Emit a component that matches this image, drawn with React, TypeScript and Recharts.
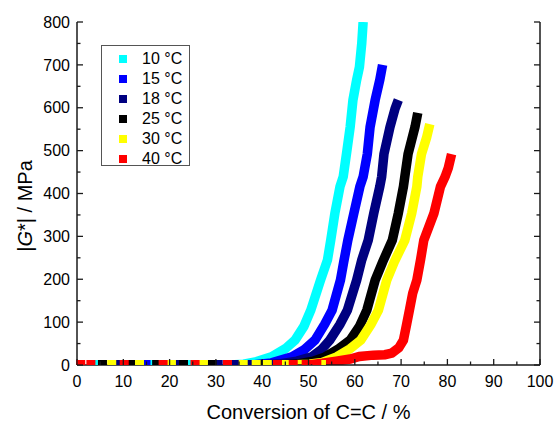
import React from 'react';
import { ComposedChart, Line, Scatter, XAxis, YAxis } from 'recharts';

const FONT = '"Liberation Sans", Arial, sans-serif';

const xTicks = [0, 5, 10, 15, 20, 25, 30, 35, 40, 45, 50, 55, 60, 65, 70, 75, 80, 85, 90, 95, 100];
const yTicks = [0, 50, 100, 150, 200, 250, 300, 350, 400, 450, 500, 550, 600, 650, 700, 750, 800];

const labels = ['10 °C', '15 °C', '18 °C', '25 °C', '30 °C', '40 °C'];
const colors = ['#00ffff', '#0000ff', '#000080', '#000000', '#ffff00', '#ff0000'];

// rising part of each curve (conversion %, |G*| MPa)
const c10 = [
  { x: 33, y: 0 }, { x: 36, y: 2 }, { x: 38.8, y: 8 }, { x: 42, y: 19 }, { x: 45, y: 38 },
  { x: 47.1, y: 58 }, { x: 49, y: 90 }, { x: 50.5, y: 128 }, { x: 52.6, y: 198 }, { x: 54.1, y: 245 },
  { x: 54.8, y: 291 }, { x: 55.7, y: 354 }, { x: 56.8, y: 416 }, { x: 57.5, y: 439 }, { x: 58.3, y: 500 },
  { x: 59, y: 555 }, { x: 59.6, y: 618 }, { x: 60.4, y: 665 }, { x: 61, y: 695 }, { x: 61.5, y: 750 },
  { x: 61.8, y: 800 },
];
const c15 = [
  { x: 38, y: 0 }, { x: 42, y: 5 }, { x: 46.4, y: 19 }, { x: 49, y: 35 }, { x: 51.4, y: 58 },
  { x: 53.5, y: 95 }, { x: 55.1, y: 128 }, { x: 56.9, y: 198 }, { x: 57.6, y: 240 }, { x: 58.5, y: 291 },
  { x: 59.8, y: 354 }, { x: 61.1, y: 416 }, { x: 61.8, y: 439 }, { x: 62.7, y: 492 },
  { x: 63.3, y: 555 }, { x: 64.4, y: 618 }, { x: 65.4, y: 665 }, { x: 66, y: 700 },
];
const c18 = [
  { x: 40, y: 0 }, { x: 44, y: 3 }, { x: 47.5, y: 9 }, { x: 50.7, y: 19 }, { x: 52.8, y: 36 },
  { x: 54.6, y: 58 }, { x: 56.8, y: 95 }, { x: 58.4, y: 128 }, { x: 60.4, y: 198 }, { x: 61.5, y: 245 },
  { x: 62.9, y: 291 }, { x: 64.1, y: 354 }, { x: 65.4, y: 416 }, { x: 65.8, y: 439 }, { x: 66.3, y: 492 },
  { x: 67.6, y: 555 }, { x: 68.7, y: 598 }, { x: 69.4, y: 618 },
];
const c25 = [
  { x: 44, y: 0 }, { x: 48, y: 3 }, { x: 51, y: 9 }, { x: 53.6, y: 19 }, { x: 56.5, y: 38 },
  { x: 59, y: 58 }, { x: 61, y: 90 }, { x: 62.6, y: 128 }, { x: 64.4, y: 198 }, { x: 66, y: 240 },
  { x: 68.1, y: 291 }, { x: 69.4, y: 354 }, { x: 70.5, y: 416 }, { x: 70.8, y: 439 }, { x: 71.5, y: 492 },
  { x: 73, y: 555 }, { x: 73.6, y: 588 },
];
const c30 = [
  { x: 46, y: 0 }, { x: 50, y: 2 }, { x: 53, y: 6 }, { x: 56.1, y: 19 }, { x: 59, y: 38 },
  { x: 61.3, y: 58 }, { x: 63.5, y: 95 }, { x: 65.1, y: 128 }, { x: 66.9, y: 198 }, { x: 68.5, y: 240 },
  { x: 70.8, y: 291 }, { x: 72.3, y: 354 }, { x: 73.4, y: 416 }, { x: 73.6, y: 439 }, { x: 74.4, y: 492 },
  { x: 75.5, y: 530 }, { x: 76.2, y: 562 },
];
const c40 = [
  { x: 50, y: 0 }, { x: 53, y: 4 }, { x: 56, y: 9 }, { x: 59, y: 14 }, { x: 61, y: 20 },
  { x: 64, y: 23 }, { x: 66.5, y: 24 }, { x: 68, y: 28 }, { x: 69.5, y: 40 }, { x: 70.5, y: 58 },
  { x: 71.2, y: 95 }, { x: 71.8, y: 128 }, { x: 72.5, y: 167 }, { x: 73.4, y: 198 }, { x: 74.2, y: 245 },
  { x: 74.9, y: 291 }, { x: 77.1, y: 354 }, { x: 78.5, y: 416 }, { x: 79.5, y: 439 }, { x: 80.2, y: 460 },
  { x: 80.9, y: 492 },
];

// points still lying on the zero line (conversion %)
const b10 = [4.4, 16.5, 24.0];
const b15 = [14.9];
const b18 = [8.9, 21.9, 30.5, 34.3, 37.5];
const b25 = [5.5, 11.6, 17.2, 23.0, 29.2, 39.9];
const b30 = [7.5, 13.5, 20.4, 27.3, 35.9, 38.7, 41.1, 45.1, 52.8];
const b40 = [0.8, 3.0, 10.2, 18.6, 25.5, 32.5, 43.3, 46.7, 49.5, 51.8];

const curves = [c10, c15, c18, c25, c30, c40];
const bases = [b10, b15, b18, b25, b30, b40];

const AXIS = '#1a1a1a';

const BottomTick = (props: any) => {
  const { x, y, payload } = props;
  const major = payload.value % 10 === 0;
  return (
    <g>
      <line x1={x} y1={y} x2={x} y2={y - (major ? 6 : 3.5)} stroke={AXIS} strokeWidth={1.3} />
      {major && (
        <text x={x} y={y + 21.5} textAnchor="middle" fontSize={16} fontFamily={FONT} fill="#000">
          {payload.value}
        </text>
      )}
    </g>
  );
};

const TopTick = (props: any) => {
  const { x, y, payload } = props;
  const major = payload.value % 10 === 0;
  return <line x1={x} y1={y} x2={x} y2={y + (major ? 6 : 3.5)} stroke={AXIS} strokeWidth={1.3} />;
};

const LeftTick = (props: any) => {
  const { x, y, payload } = props;
  const major = payload.value % 100 === 0;
  return (
    <g>
      <line x1={x} y1={y} x2={x + (major ? 6 : 3.5)} y2={y} stroke={AXIS} strokeWidth={1.3} />
      {major && (
        <text x={x - 7} y={y + 5.7} textAnchor="end" fontSize={16} fontFamily={FONT} fill="#000">
          {payload.value}
        </text>
      )}
    </g>
  );
};

const RightTick = (props: any) => {
  const { x, y, payload } = props;
  const major = payload.value % 100 === 0;
  return <line x1={x} y1={y} x2={x - (major ? 6 : 3.5)} y2={y} stroke={AXIS} strokeWidth={1.3} />;
};

const Square = (color: string) => (props: any) => {
  const { cx, cy } = props;
  return <rect x={cx - 4.5} y={cy - 5} width={9} height={10} fill={color} />;
};

const XTitle = () => (
  <text x={308.5} y={418.5} textAnchor="middle" fontSize={20} fontFamily={FONT} fill="#000">
    Conversion of C=C / %
  </text>
);

const YTitle = () => (
  <text x={32} y={206} transform="rotate(-90 32 206)" textAnchor="middle" fontSize={20} fontFamily={FONT} fill="#000">
    |<tspan fontStyle="italic">G</tspan>*| / MPa
  </text>
);

export default function App() {
  return (
    <div style={{ position: 'absolute', left: 0, top: 0, width: 556, height: 423, background: '#fff' }}>
      <ComposedChart width={556} height={423} margin={{ top: 22, right: 0, bottom: 0, left: 0 }}>
        <XAxis
          xAxisId="b"
          dataKey="x"
          type="number"
          domain={[0, 100]}
          ticks={xTicks}
          interval={0}
          height={58}
          tickSize={0}
          tickMargin={0}
          tickLine={false}
          tick={<BottomTick />}
          axisLine={{ stroke: AXIS, strokeWidth: 1.5 }}
          label={{ content: <XTitle /> }}
        />
        <XAxis
          xAxisId="t"
          orientation="top"
          dataKey="x"
          type="number"
          domain={[0, 100]}
          ticks={xTicks}
          interval={0}
          height={0}
          tickSize={0}
          tickMargin={0}
          tickLine={false}
          tick={<TopTick />}
          axisLine={{ stroke: AXIS, strokeWidth: 1.5 }}
        />
        <YAxis
          yAxisId="l"
          dataKey="y"
          type="number"
          domain={[0, 800]}
          allowDataOverflow
          ticks={yTicks}
          interval={0}
          width={77}
          tickSize={0}
          tickMargin={0}
          tickLine={false}
          tick={<LeftTick />}
          axisLine={{ stroke: AXIS, strokeWidth: 1.5 }}
          label={{ content: <YTitle /> }}
        />
        <YAxis
          yAxisId="r"
          orientation="right"
          dataKey="y"
          type="number"
          domain={[0, 800]}
          allowDataOverflow
          ticks={yTicks}
          interval={0}
          width={16}
          tickSize={0}
          tickMargin={0}
          tickLine={false}
          tick={<RightTick />}
          axisLine={{ stroke: AXIS, strokeWidth: 1.5 }}
        />
        {curves.map((c, i) => (
          <Line
            key={'l' + i}
            xAxisId="b"
            yAxisId="l"
            data={c}
            dataKey="y"
            type="linear"
            stroke={colors[i]}
            strokeWidth={9.5}
            dot={false}
            activeDot={false}
            isAnimationActive={false}
          />
        ))}
        {bases.map((b, i) => (
          <Scatter
            key={'s' + i}
            xAxisId="b"
            yAxisId="l"
            data={b.map((x) => ({ x, y: 0 }))}
            shape={Square(colors[i])}
            isAnimationActive={false}
          />
        ))}
      </ComposedChart>
      <div
        style={{
          position: 'absolute',
          left: 101,
          top: 45,
          width: 89,
          height: 121,
          border: '1px solid #555',
          boxSizing: 'border-box',
          background: '#fff',
          fontFamily: FONT,
          fontSize: 16,
        }}
      >
        {labels.map((l, i) => (
          <div
            key={l}
            style={{ position: 'absolute', left: 0, top: 3 + i * 20, height: 20, display: 'flex', alignItems: 'center' }}
          >
            <span style={{ display: 'inline-block', width: 8, height: 8, background: colors[i], marginLeft: 17 }} />
            <span style={{ marginLeft: 15, lineHeight: '20px', whiteSpace: 'nowrap' }}>{l}</span>
          </div>
        ))}
      </div>
    </div>
  );
}
